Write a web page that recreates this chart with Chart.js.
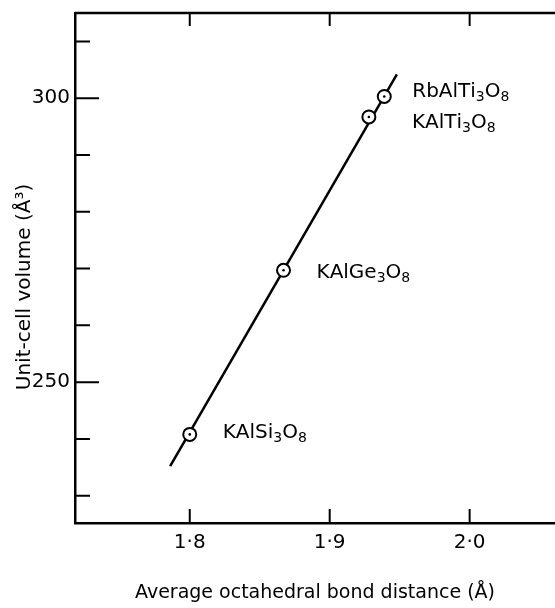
<!DOCTYPE html>
<html>
<head>
<meta charset="utf-8">
<script src="https://cdn.jsdelivr.net/npm/chart.js@4"></script>
<style>
  html, body { margin: 0; padding: 0; background: #fff; }
  canvas { display: block; }
</style>
</head>
<body>
<canvas id="chart" width="555" height="608"></canvas>
<script>
// values
const compounds = ['KAlSi3O8', 'KAlGe3O8', 'KAlTi3O8', 'RbAlTi3O8'];
const bondDistance = [1.800, 1.867, 1.928, 1.939];
const cellVolume = [240.8, 269.7, 296.7, 300.3];
const fitDistance = [1.786, 1.948];
const fitVolume = [235.2, 304.2];
const xTicks = [1.8, 1.9, 2.0];
const yTicks = [230, 240, 250, 260, 270, 280, 290, 300, 310];
const yLabelled = [250, 300];
const yTitle = 'Unit-cell volume (Å³)';

const FONT = '"DejaVu Sans", sans-serif';
// pixel offset of each compound label from its point (left edge, baseline)
const labelOffsets = [[33, 4], [33, 8], [43, 11], [28, 1]];

const points = bondDistance.map((d, i) => ({ x: d, y: cellVolume[i] }));
const fit = fitDistance.map((d, i) => ({ x: d, y: fitVolume[i] }));

const drawFormula = (ctx, text, x, y) => {
    // digits are drawn as subscripts
    let cx = x;
    for (const ch of text) {
        const sub = /[0-9]/.test(ch);
        ctx.font = (sub ? '14px ' : '20px ') + FONT;
        ctx.fillText(ch, cx, sub ? y + 4 : y);
        cx += ctx.measureText(ch).width;
    }
};

const frameAndLabels = {
    id: 'frameAndLabels',
    afterDatasetsDraw(chart) {
        const { ctx, chartArea: a, scales: { x, y } } = chart;
        ctx.save();
        ctx.strokeStyle = '#000';
        ctx.lineWidth = 2.5;
        ctx.beginPath();
        ctx.moveTo(a.left, a.top);
        ctx.lineTo(a.right, a.top);
        ctx.stroke();
        ctx.lineWidth = 2;
        ctx.beginPath();
        xTicks.forEach(v => {
            const px = x.getPixelForValue(v);
            ctx.moveTo(px, a.top); ctx.lineTo(px, a.top + 13);
            ctx.moveTo(px, a.bottom); ctx.lineTo(px, a.bottom - 14);
        });
        yTicks.forEach(v => {
            const py = y.getPixelForValue(v);
            const len = yLabelled.includes(v) ? 24 : 15;
            ctx.moveTo(a.left, py); ctx.lineTo(a.left + len, py);
        });
        ctx.stroke();

        ctx.fillStyle = '#000';
        ctx.textBaseline = 'alphabetic';
        ctx.textAlign = 'left';
        compounds.forEach((name, i) => {
            const px = x.getPixelForValue(bondDistance[i]);
            const py = y.getPixelForValue(cellVolume[i]);
            drawFormula(ctx, name, px + labelOffsets[i][0], py + labelOffsets[i][1]);
        });

        // y axis title, rotated
        ctx.translate(25, 287);
        ctx.rotate(-Math.PI / 2);
        ctx.font = '20px ' + FONT;
        ctx.textAlign = 'center';
        ctx.textBaseline = 'middle';
        ctx.fillText(yTitle, 0, 0);
        ctx.restore();
    }
};

new Chart(document.getElementById('chart'), {
    type: 'scatter',
    data: {
        datasets: [
            {
                data: points,
                pointRadius: 1.3,
                pointBackgroundColor: '#000',
                pointBorderWidth: 0
            },
            {
                data: points,
                pointRadius: 6.5,
                pointBackgroundColor: '#fff',
                pointBorderColor: '#000',
                pointBorderWidth: 2
            },
            {
                type: 'line',
                data: fit,
                borderColor: '#000',
                borderWidth: 2.5,
                pointRadius: 0,
                fill: false
            }
        ]
    },
    options: {
        responsive: false,
        animation: false,
        layout: { autoPadding: false, padding: { top: 13, right: 0, left: 0, bottom: 0 } },
        plugins: { legend: { display: false }, tooltip: { enabled: false } },
        scales: {
            x: {
                type: 'linear',
                min: 1.718,
                max: 2.061,
                afterBuildTicks: s => { s.ticks = xTicks.map(v => ({ value: v })); },
                afterFit: s => {
                    s.height = 85;
                    s.paddingLeft = 0; s.paddingRight = 0;
                },
                ticks: {
                    callback: v => v.toFixed(1).replace('.', '·'),
                    font: { family: FONT, size: 20 },
                    color: '#000',
                    padding: 8,
                    maxRotation: 0
                },
                grid: { display: true, drawOnChartArea: false, drawTicks: false },
                border: { color: '#000', width: 2.5 },
                title: {
                    display: true,
                    text: 'Average octahedral bond distance (Å)',
                    font: { family: FONT, size: 19 },
                    color: '#000',
                    padding: { top: 0, bottom: 4 }
                }
            },
            y: {
                type: 'linear',
                min: 225.2,
                max: 315,
                afterBuildTicks: s => { s.ticks = yTicks.map(v => ({ value: v })); },
                afterFit: s => {
                    s.width = 75;
                    s.paddingTop = 0; s.paddingBottom = 0;
                },
                ticks: {
                    callback: v => yLabelled.includes(v) ? String(v) : '',
                    font: { family: FONT, size: 20 },
                    color: '#000',
                    padding: 5
                },
                grid: { display: true, drawOnChartArea: false, drawTicks: false },
                border: { color: '#000', width: 2.5 }
            }
        }
    },
    plugins: [frameAndLabels]
});
</script>
</body>
</html>
